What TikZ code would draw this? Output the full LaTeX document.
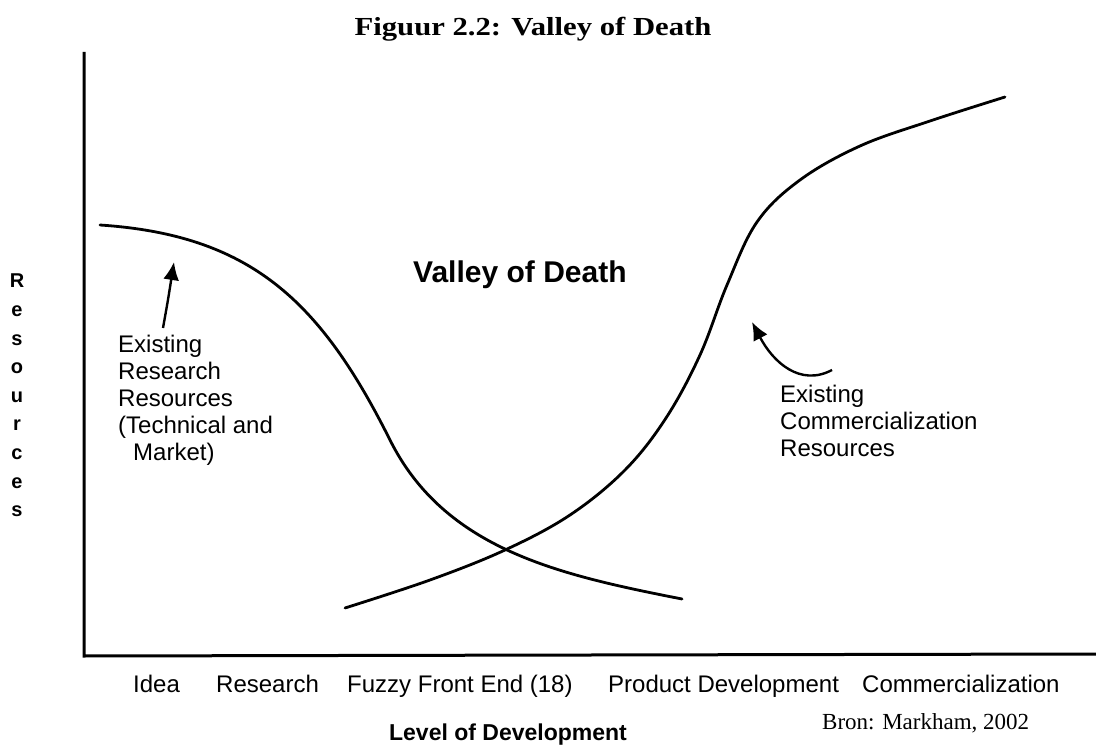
\documentclass[tikz,border=0pt]{standalone}
\usepackage{fontspec}
\setmainfont{Liberation Serif}
\setsansfont{Liberation Sans}
\usetikzlibrary{arrows.meta}
\begin{document}
\begin{tikzpicture}[x=1pt,y=-1pt,
  axis/.style={line width=3pt, line join=miter},
  curve/.style={line width=2.8pt, line join=round, line cap=round},
  pointer/.style={line width=2.4pt, -{Latex[length=18pt,width=16pt]}},
  lbl/.style={font=\sffamily\fontsize{24}{27}\selectfont, inner sep=0pt},
  stage/.style={font=\sffamily\fontsize{24}{28}\selectfont, inner sep=0pt, anchor=base west},
]
\useasboundingbox (0,0) rectangle (1096,746);
\fill[white] (0,0) rectangle (1096,746);

% axes
\coordinate (ytop) at (84,52);
\coordinate (origin) at (84,656);
\coordinate (xend) at (1096,654);
\draw[axis] (ytop) -- (origin) -- (xend);

% existing research resources (falling curve)
\draw[curve] (100,225) .. controls (250,235) and (320,300) .. (390,440)
  .. controls (445,550) and (560,575) .. (682,599);

% existing commercialization resources (rising curve)
\draw[curve] plot[smooth, tension=0.6] coordinates {
  (345,608) (430,580) (505,550) (570,515) (625,470) (666,418)
  (700,355) (727,285) (757,222) (800,180) (860,146)
  (930,121) (1005,97)};

% titles
\node[font=\bfseries\fontsize{26}{30}\selectfont, inner sep=0pt, anchor=base] (title) at (533,36)
  {\scalebox{1.18}[1]{Figuur 2.2: Valley of Death}};
\node[font=\sffamily\bfseries\fontsize{30}{34}\selectfont, inner sep=0pt, anchor=base west] (valley) at (413,283)
  {Valley of Death};

% curve labels
\node[lbl, align=left, anchor=north west] (research) at (118,335)
  {Existing\\Research\\Resources\\(Technical and\\\hspace*{15pt}Market)};
\node[lbl, align=left, anchor=north west] (commercial) at (780,385)
  {Existing\\Commercialization\\Resources};

% pointers from labels to curves
\coordinate (rtail) at (163,328);
\coordinate (rtip) at (174,262);
\draw[pointer] (rtail) .. controls (168,300) .. (rtip);
\coordinate (ctail) at (832,370);
\coordinate (ctip) at (752,322);
\draw[pointer] (ctail) .. controls (800,387) and (773,362) .. (ctip);

% vertical axis label
\node[font=\sffamily\bfseries\fontsize{20}{28.6}\selectfont, inner sep=0pt, align=center, anchor=north] (yl) at (17,274)
  {R\\e\\s\\o\\u\\r\\c\\e\\s};

% stages along the horizontal axis
\node[stage] (idea) at (133,692) {Idea};
\node[stage] (res) at (216,692) {Research};
\node[stage] (ffe) at (347,692) {Fuzzy Front End (18)};
\node[stage] (pd) at (608,692) {Product Development};
\node[stage] (comm) at (862,692) {Commercialization};

\node[font=\sffamily\bfseries\fontsize{23}{27}\selectfont, inner sep=0pt, anchor=base] (xl) at (508,740)
  {Level of Development};
\node[font=\fontsize{23}{27}\selectfont, inner sep=0pt, anchor=base west] (src) at (822,729)
  {Bron: Markham, 2002};
\end{tikzpicture}
\end{document}
